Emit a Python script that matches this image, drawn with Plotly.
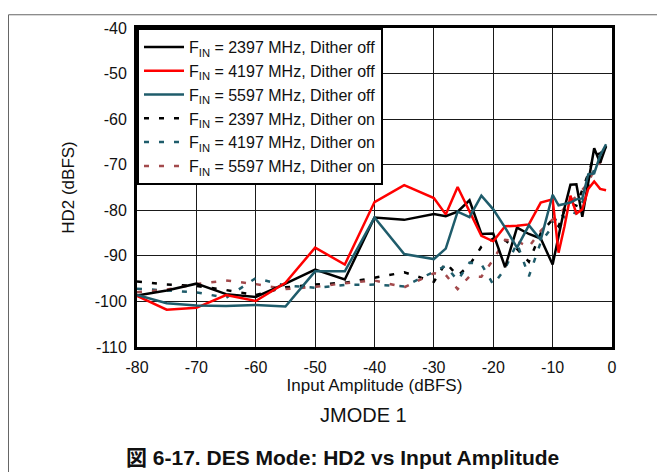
import plotly.graph_objects as go

# Input amplitude (dBFS) sample points
x_dbfs = [-80, -75, -70, -65, -60, -55, -50, -45, -40, -35, -30,
          -28, -26, -24, -22, -20, -18, -16, -14, -12, -10,
          -9, -8, -7, -6, -5, -4, -3, -2, -1]

# HD2 (dBFS), dither off
hd2_2397_off = [-98.7, -97.6, -96.1, -98.4, -99.0, -96.1, -93.0, -95.2, -81.6, -82.1, -80.8,
                -81.3, -80.3, -77.8, -85.2, -85.1, -92.5, -83.8, -85.2, -86.2, -91.9,
                -85.5, -79.5, -74.4, -74.3, -81.4, -73.5, -66.4, -69.6, -65.9]
hd2_4197_off = [-98.8, -101.8, -101.4, -98.6, -99.9, -95.9, -88.2, -91.9, -78.2, -74.5, -77.3,
                -80.9, -74.9, -80.4, -85.6, -86.8, -83.5, -83.4, -83.1, -78.3, -77.6,
                -89.3, -83.5, -76.8, -80.7, -79.8, -75.3, -73.7, -75.3, -75.6]
hd2_5597_off = [-98.6, -100.4, -100.9, -101.0, -100.8, -101.1, -93.4, -93.4, -81.6, -89.6, -90.7,
                -88.4, -80.3, -81.5, -76.8, -79.8, -83.8, -88.2, -83.3, -86.5, -76.6,
                -78.9, -78.6, -78.3, -77.6, -77.4, -72.1, -71.9, -68.0, -65.5]

# HD2 (dBFS), dither on
hd2_2397_on = [-95.6, -96.3, -96.6, -97.5, -98.6, -96.9, -96.3, -95.9, -94.8, -93.6, -95.7,
               -91.5, -94.4, -92.0, -88.0, -86.2, -86.6, -88.5, -91.3, -85.0, -82.0,
               -83.5, -80.0, -78.5, -79.0, -75.5, -72.0, -68.0, -67.5, -66.5]
hd2_4197_on = [-97.2, -97.6, -98.0, -99.2, -94.9, -96.5, -97.0, -96.4, -96.3, -96.7, -93.6,
               -92.2, -95.4, -91.5, -91.8, -96.3, -92.8, -87.2, -94.5, -87.0, -83.5,
               -80.5, -81.5, -80.3, -80.7, -78.2, -74.8, -71.0, -69.0, -66.0]
hd2_5597_on = [-98.0, -97.4, -96.2, -95.4, -96.2, -97.3, -96.8, -96.0, -95.4, -96.9, -93.8,
               -94.2, -97.3, -94.5, -94.6, -90.8, -86.5, -86.8, -88.0, -84.5, -82.0,
               -81.0, -79.5, -78.0, -77.0, -75.5, -74.0, -71.0, -69.5, -67.5]

# tick labels use a plain hyphen like the datasheet
x_ticks = [-80, -70, -60, -50, -40, -30, -20, -10, 0]
x_tick_labels = ["-80", "-70", "-60", "-50", "-40", "-30", "-20", "-10", "0"]
y_ticks = [-110, -100, -90, -80, -70, -60, -50, -40]
y_tick_labels = ["-110", "-100", "-90", "-80", "-70", "-60", "-50", "-40"]

FONT = "Liberation Sans, Arial, sans-serif"
BLACK = "#000000"
RED = "#ff0000"
TEAL = "#1f5c6b"
BROWN = "#a34a4c"

fig = go.Figure()

# dither-on traces first so the solid lines sit on top
dashed = [
    ("F<sub>IN</sub> = 2397 MHz, Dither on", hd2_2397_on, BLACK, 4),
    ("F<sub>IN</sub> = 4197 MHz, Dither on", hd2_4197_on, TEAL, 5),
    ("F<sub>IN</sub> = 5597 MHz, Dither on", hd2_5597_on, BROWN, 6),
]
for name, y, color, rank in dashed:
    fig.add_trace(go.Scatter(
        x=x_dbfs, y=y, name=name, mode="lines", legendrank=rank,
        line=dict(color=color, width=2.5, dash="5px,10px")
    ))

solid = [
    ("F<sub>IN</sub> = 2397 MHz, Dither off", hd2_2397_off, BLACK, 1),
    ("F<sub>IN</sub> = 4197 MHz, Dither off", hd2_4197_off, RED, 2),
    ("F<sub>IN</sub> = 5597 MHz, Dither off", hd2_5597_off, TEAL, 3),
]
for name, y, color, rank in solid:
    fig.add_trace(go.Scatter(
        x=x_dbfs, y=y, name=name, mode="lines", legendrank=rank,
        line=dict(color=color, width=2.5)
    ))

# the page body adds an 8px margin, so the figure is a bit smaller than the window
fig.update_layout(
    width=657, height=464,
    margin=dict(l=129, r=53, t=14, b=125),
    paper_bgcolor="white", plot_bgcolor="white",
    font=dict(family=FONT, size=16, color="#111"),
    showlegend=True,
    legend=dict(
        x=0, y=1, xanchor="left", yanchor="top",
        bgcolor="white", bordercolor="black", borderwidth=2,
        font=dict(family=FONT, size=16, color="#111"),
        tracegroupgap=0, itemwidth=40,
    ),
    xaxis=dict(
        range=[-80, 0], tickvals=x_ticks, ticktext=x_tick_labels,
        showgrid=True, gridcolor="#1a1a1a", gridwidth=1,
        showline=True, linecolor="black", linewidth=3, mirror=True,
        zeroline=False, ticks="", ticklabelstandoff=4,
        tickfont=dict(size=16),
        title=dict(text="Input Amplitude (dBFS)", font=dict(size=17), standoff=4),
    ),
    yaxis=dict(
        range=[-110, -40], tickvals=y_ticks, ticktext=y_tick_labels,
        showgrid=True, gridcolor="#1a1a1a", gridwidth=1,
        showline=True, linecolor="black", linewidth=3, mirror=True,
        zeroline=False, ticks="", ticklabelstandoff=4,
        tickfont=dict(size=16),
        title=dict(text="HD2 (dBFS)", font=dict(size=17), standoff=16),
    ),
    annotations=[
        dict(text="JMODE 1", xref="paper", yref="paper", x=0.476, y=-0.212,
             xanchor="center", yanchor="middle", showarrow=False,
             font=dict(family=FONT, size=20, color="#111")),
        dict(text="<b>図 6-17. DES Mode: HD2 vs Input Amplitude</b>",
             xref="paper", yref="paper", x=0.432, y=-0.345,
             xanchor="center", yanchor="middle", showarrow=False,
             font=dict(family="Liberation Sans, Noto Sans CJK JP, sans-serif",
                       size=21, color="#111")),
    ],
    shapes=[
        # thin page frame around the figure
        dict(type="rect", xref="paper", yref="paper",
             x0=-0.2705, x1=1.2, y0=-0.5, y1=1.0415,
             line=dict(color="#666", width=1), layer="below"),
    ],
)

fig.write_html("out.html")
